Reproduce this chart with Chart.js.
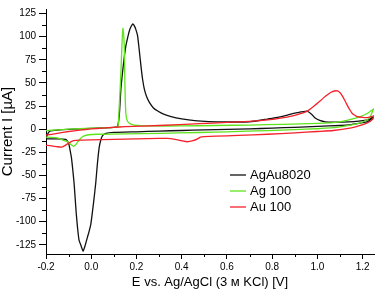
<!DOCTYPE html>
<html>
<head>
<meta charset="utf-8">
<script src="https://cdn.jsdelivr.net/npm/chart.js@4.4.1/dist/chart.umd.min.js"></script>
<style>
  html, body { margin: 0; padding: 0; background: #fff; }
</style>
</head>
<body>
<canvas id="cv" width="376" height="290"></canvas>
<script>
// ---- data (E in V, I in µA) ----
const seriesNames = ['AgAu8020', 'Ag 100', 'Au 100'];
const seriesColors = ['#111111', '#5fe31c', '#f4212b'];

// AgAu8020: anodic sweep then cathodic return
const agauE = [-0.2, -0.19, -0.18, -0.15, -0.1, -0.05, 0, 0.05, 0.1, 0.116, 0.124, 0.131, 0.139, 0.146, 0.153, 0.161, 0.168, 0.176, 0.184, 0.19, 0.197, 0.205, 0.212, 0.22, 0.227, 0.235, 0.245, 0.257, 0.275, 0.294, 0.32, 0.353, 0.4, 0.457, 0.52, 0.6, 0.7, 0.78, 0.83, 0.87, 0.91, 0.953, 0.975, 0.99, 1.01, 1.035, 1.07, 1.11, 1.16, 1.2, 1.23, 1.245,
  1.24, 1.22, 1.2, 1.15, 1.1, 1.0, 0.9, 0.8, 0.7, 0.6, 0.5, 0.4, 0.3, 0.2, 0.1, 0.065, 0.05, 0.042, 0.035, 0.027, 0.02, 0.01, -0.002, -0.01, -0.017, -0.026, -0.036, -0.045, -0.054, -0.06, -0.066, -0.071, -0.076, -0.082, -0.088, -0.094, -0.099, -0.106, -0.113, -0.15, -0.2];
const agauI = [-10, -4, -1.7, -0.9, -0.1, 0.4, 0.9, 1.4, 1.9, 3, 15, 43, 63, 78, 90, 99, 106, 111, 114, 112, 108, 101, 86, 68, 54, 43, 35, 29, 23, 19.6, 16.2, 13.6, 11.2, 9.2, 8.2, 7.8, 8, 11, 13, 15.4, 17.8, 19.6, 16, 12, 9.5, 8, 7.7, 7.7, 8.2, 9.2, 11, 13,
  11, 8, 7, 5, 4, 3, 2, 1.2, 0.3, -0.3, -0.8, -1.4, -2, -2.8, -3.5, -4.5, -7, -12, -20, -38, -58, -80, -103, -111, -117, -125, -132, -126, -120, -108, -92, -75, -58, -43, -30, -22, -16, -12.5, -11, -10.5, -10.5];

// Ag 100
const agE = [-0.2, -0.15, -0.1, -0.05, 0, 0.05, 0.1, 0.118, 0.124, 0.128, 0.131, 0.134, 0.137, 0.14, 0.143, 0.146, 0.148, 0.15, 0.153, 0.158, 0.168, 0.19, 0.25, 0.4, 0.55, 0.7, 0.85, 1.0, 1.07, 1.13, 1.19, 1.22, 1.25,
  1.245, 1.23, 1.19, 1.1, 1.0, 0.9, 0.78, 0.6, 0.48, 0.3, 0.15, 0.026, -0.01, -0.034, -0.045, -0.056, -0.066, -0.078, -0.09, -0.105, -0.122, -0.15, -0.175, -0.2];
const agI = [-1.5, -0.8, 0, 0.5, 1, 1.5, 2, 2.5, 26, 45, 61, 80, 98, 109, 103, 90, 60, 35, 17, 10, 6.5, 4.5, 3.5, 3.5, 4, 4.5, 5.2, 6.2, 7, 9.5, 13.6, 17, 22,
  20, 12, 6.7, 2.5, 0.5, -0.5, -1.5, -2.8, -3.6, -4.5, -5, -5.5, -6, -7.5, -9.5, -12.5, -16, -18.5, -16.5, -13.5, -12, -9.5, -8.8, -8.5];

// Au 100
const auE = [-0.2, -0.15, -0.1, -0.05, 0, 0.05, 0.1, 0.15, 0.3, 0.48, 0.6, 0.7, 0.78, 0.85, 0.9, 0.955, 0.985, 1.014, 1.035, 1.058, 1.075, 1.088, 1.1, 1.11, 1.12, 1.132, 1.143, 1.154, 1.165, 1.176, 1.2, 1.22, 1.24, 1.25,
  1.245, 1.22, 1.19, 1.15, 1.07, 1.0, 0.9, 0.78, 0.65, 0.55, 0.5, 0.483, 0.47, 0.45, 0.424, 0.4, 0.37, 0.336, 0.3, 0.2, 0.1, 0, -0.05, -0.078, -0.1, -0.115, -0.13, -0.15, -0.175, -0.2];
const auI = [-6.5, -4.5, -2.5, -1, 0.3, 1.2, 2, 2.7, 4, 6, 7.3, 8.5, 10, 12.5, 15, 19.5, 25, 31, 35.5, 39.7, 41.3, 41.4, 39.5, 36, 31.5, 25.8, 21, 17, 15, 13.6, 12.8, 12.6, 13.5, 14.6,
  11, 6.7, 4, 1.5, -1.4, -2.5, -4, -5.5, -6.8, -7.5, -8, -8.5, -10.5, -12.5, -13.6, -12.5, -11, -10, -10, -10.5, -11, -11.5, -11.8, -12.5, -15, -17.5, -19.4, -19, -18, -17.5];

// axis ticks
const xTicks = [-0.2, 0, 0.2, 0.4, 0.6, 0.8, 1.0, 1.2];
const xMinor = [-0.1, 0.1, 0.3, 0.5, 0.7, 0.9, 1.1];
const yTicks = [-125, -100, -75, -50, -25, 0, 25, 50, 75, 100, 125];
const yMinor = [-112.5, -87.5, -62.5, -37.5, -12.5, 12.5, 37.5, 62.5, 87.5, 112.5];

const FONT = "'Liberation Sans', Arial, sans-serif";

const zip = (xs, ys) => xs.map((x, i) => ({ x, y: ys[i] }));

// kratke vedlejsi carky na osach
const minorTicks = {
  id: 'minorTicks',
  afterDraw(chart) {
    const { ctx, chartArea, scales } = chart;
    ctx.save();
    ctx.strokeStyle = '#000';
    ctx.lineWidth = 1;
    ctx.beginPath();
    xMinor.forEach(v => {
      const px = Math.round(scales.x.getPixelForValue(v)) + 0.5;
      ctx.moveTo(px, chartArea.bottom);
      ctx.lineTo(px, chartArea.bottom + 3);
    });
    yMinor.forEach(v => {
      const py = Math.round(scales.y.getPixelForValue(v)) + 0.5;
      ctx.moveTo(chartArea.left, py);
      ctx.lineTo(chartArea.left - 4, py);
    });
    ctx.stroke();
    ctx.restore();
  }
};

// legenda uvnitr grafu, vpravo dole
const innerLegend = {
  id: 'innerLegend',
  afterDraw(chart) {
    const { ctx } = chart;
    ctx.save();
    ctx.font = '13px ' + FONT;
    ctx.textBaseline = 'middle';
    ctx.fillStyle = '#000';
    chart.data.datasets.forEach((ds, i) => {
      const y = 175 + i * 16;
      ctx.strokeStyle = ds.borderColor;
      ctx.lineWidth = 1.3;
      ctx.beginPath();
      ctx.moveTo(230, y);
      ctx.lineTo(246, y);
      ctx.stroke();
      ctx.fillText(ds.label, 250, y + 0.5);
    });
    ctx.restore();
  }
};

const allE = [agauE, agE, auE];
const allI = [agauI, agI, auI];

new Chart(document.getElementById('cv'), {
  type: 'scatter',
  data: {
    datasets: seriesNames.map((name, i) => ({
      label: name,
      data: zip(allE[i], allI[i]),
      showLine: true,
      borderColor: seriesColors[i],
      backgroundColor: seriesColors[i],
      borderWidth: 1.3,
      pointRadius: 0,
      tension: 0.15,
      order: 2 - i,
    })),
  },
  options: {
    responsive: false,
    animation: false,
    layout: { padding: { left: 0, right: 2, top: 0, bottom: 0 } },
    plugins: {
      legend: { display: false },
      tooltip: { enabled: false },
    },
    scales: {
      x: {
        type: 'linear',
        min: -0.2, max: 1.25,
        afterBuildTicks: s => { s.ticks = xTicks.map(v => ({ value: v })); },
        afterFit: s => { s.height = 36; },
        ticks: {
          font: { size: 10, family: FONT }, color: '#000', padding: 2, maxRotation: 0,
          callback: v => v.toFixed(1),
        },
        grid: { drawOnChartArea: false, drawTicks: true, tickLength: 5, tickColor: '#000' },
        border: { display: true, color: '#000', width: 1 },
        title: { display: true, text: 'E vs. Ag/AgCl (3 м KCl) [V]', color: '#000', font: { size: 13, family: FONT }, padding: 0 },
      },
      y: {
        type: 'linear',
        min: -135, max: 130,
        afterBuildTicks: s => { s.ticks = yTicks.map(v => ({ value: v })); },
        afterFit: s => { s.width = 46; },
        ticks: {
          font: { size: 10, family: FONT }, color: '#000', padding: 3,
          callback: v => String(v),
        },
        grid: { drawOnChartArea: false, drawTicks: true, tickLength: 7, tickColor: '#000' },
        border: { display: true, color: '#000', width: 1 },
        title: { display: true, text: 'Current I [µA]', color: '#000', font: { size: 15, family: FONT }, padding: { top: -1, bottom: 0 } },
      },
    },
  },
  plugins: [minorTicks, innerLegend],
});
</script>
</body>
</html>
